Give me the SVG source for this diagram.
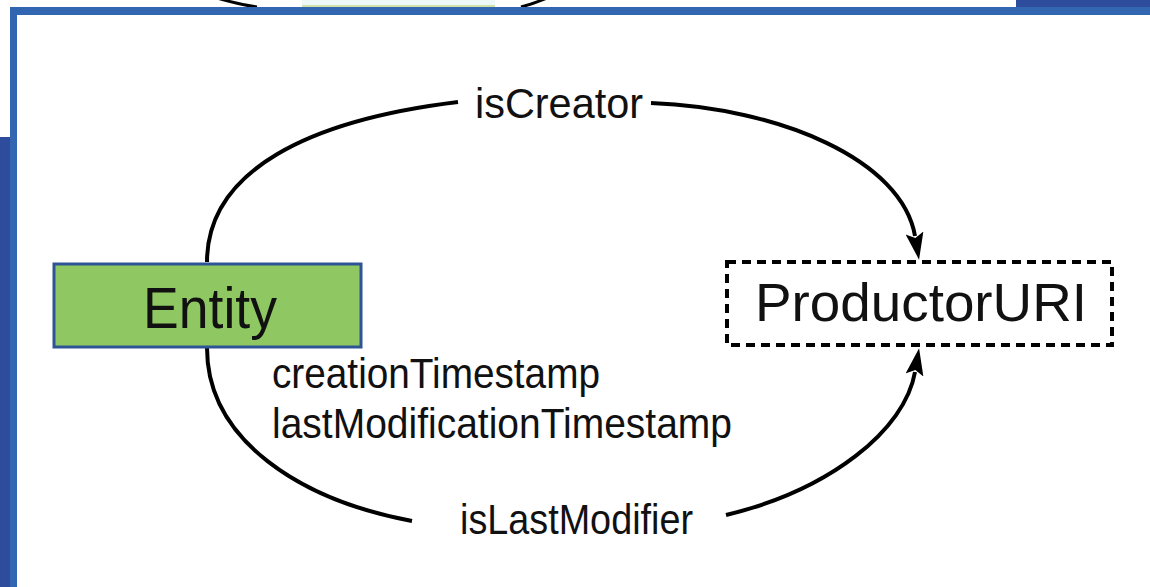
<svg xmlns="http://www.w3.org/2000/svg" width="1150" height="587" viewBox="0 0 1150 587">
<style>
.lbl{font-family:"Liberation Sans",Arial,sans-serif;fill:#111;}
.conn{fill:none;stroke:#000;stroke-width:4;}
</style>
<defs>
<marker id="arr" markerUnits="userSpaceOnUse" markerWidth="30" markerHeight="20" refX="3" refY="9" orient="auto">
<path d="M0,0 L27,9 L0,18 L5,9 z" fill="#000"/>
</marker>
</defs>
<rect x="0" y="0" width="1150" height="587" fill="#fff"/>
<g id="frame">
<rect x="302" y="0" width="193" height="7" fill="#EEF8F6"/>
<rect x="302" y="5" width="193" height="2" fill="#CFE3A8"/>
<path d="M200,-8 Q225,2 257,7" fill="none" stroke="#000" stroke-width="3"/>
<path d="M560,-8 Q540,2 521,7" fill="none" stroke="#000" stroke-width="3"/>
<rect x="1016" y="0" width="134" height="7" fill="#2E4C9C"/>
<rect x="0" y="137" width="10" height="450" fill="#2E4C9C"/>
<rect x="10" y="7" width="1140" height="8" fill="#3366B0"/>
<rect x="10" y="7" width="7" height="580" fill="#3366B0"/>
</g>
<g id="connectors">
<path class="conn" d="M207,262 C207,170 310,120 458,102"/>
<path class="conn" d="M651,103 C780,108 902,160 915,236" marker-end="url(#arr)"/>
<path class="conn" d="M207,348 C207,440 300,500 412,521"/>
<path class="conn" d="M726,515 C830,490 905,430 915,372" marker-end="url(#arr)"/>
<text class="lbl" x="475" y="118" font-size="42" textLength="168" lengthAdjust="spacingAndGlyphs">isCreator</text>
<text class="lbl" x="460" y="534" font-size="42" textLength="233" lengthAdjust="spacingAndGlyphs">isLastModifier</text>
<text class="lbl" x="272" y="388" font-size="42" textLength="328" lengthAdjust="spacingAndGlyphs">creationTimestamp</text>
<text class="lbl" x="272" y="438" font-size="42" textLength="460" lengthAdjust="spacingAndGlyphs">lastModificationTimestamp</text>
</g>
<g id="entity">
<rect x="54" y="264" width="307" height="83" fill="#8FC862" stroke="#2F5496" stroke-width="3"/>
<text class="lbl" x="143" y="328" font-size="57" textLength="134" lengthAdjust="spacingAndGlyphs" fill="#0A220A">Entity</text>
</g>
<g id="productor">
<rect x="727" y="262" width="385" height="83" fill="none" stroke="#000" stroke-width="4" stroke-dasharray="9 6"/>
<text class="lbl" x="755" y="321" font-size="53" textLength="332" lengthAdjust="spacingAndGlyphs">ProductorURI</text>
</g>
</svg>
